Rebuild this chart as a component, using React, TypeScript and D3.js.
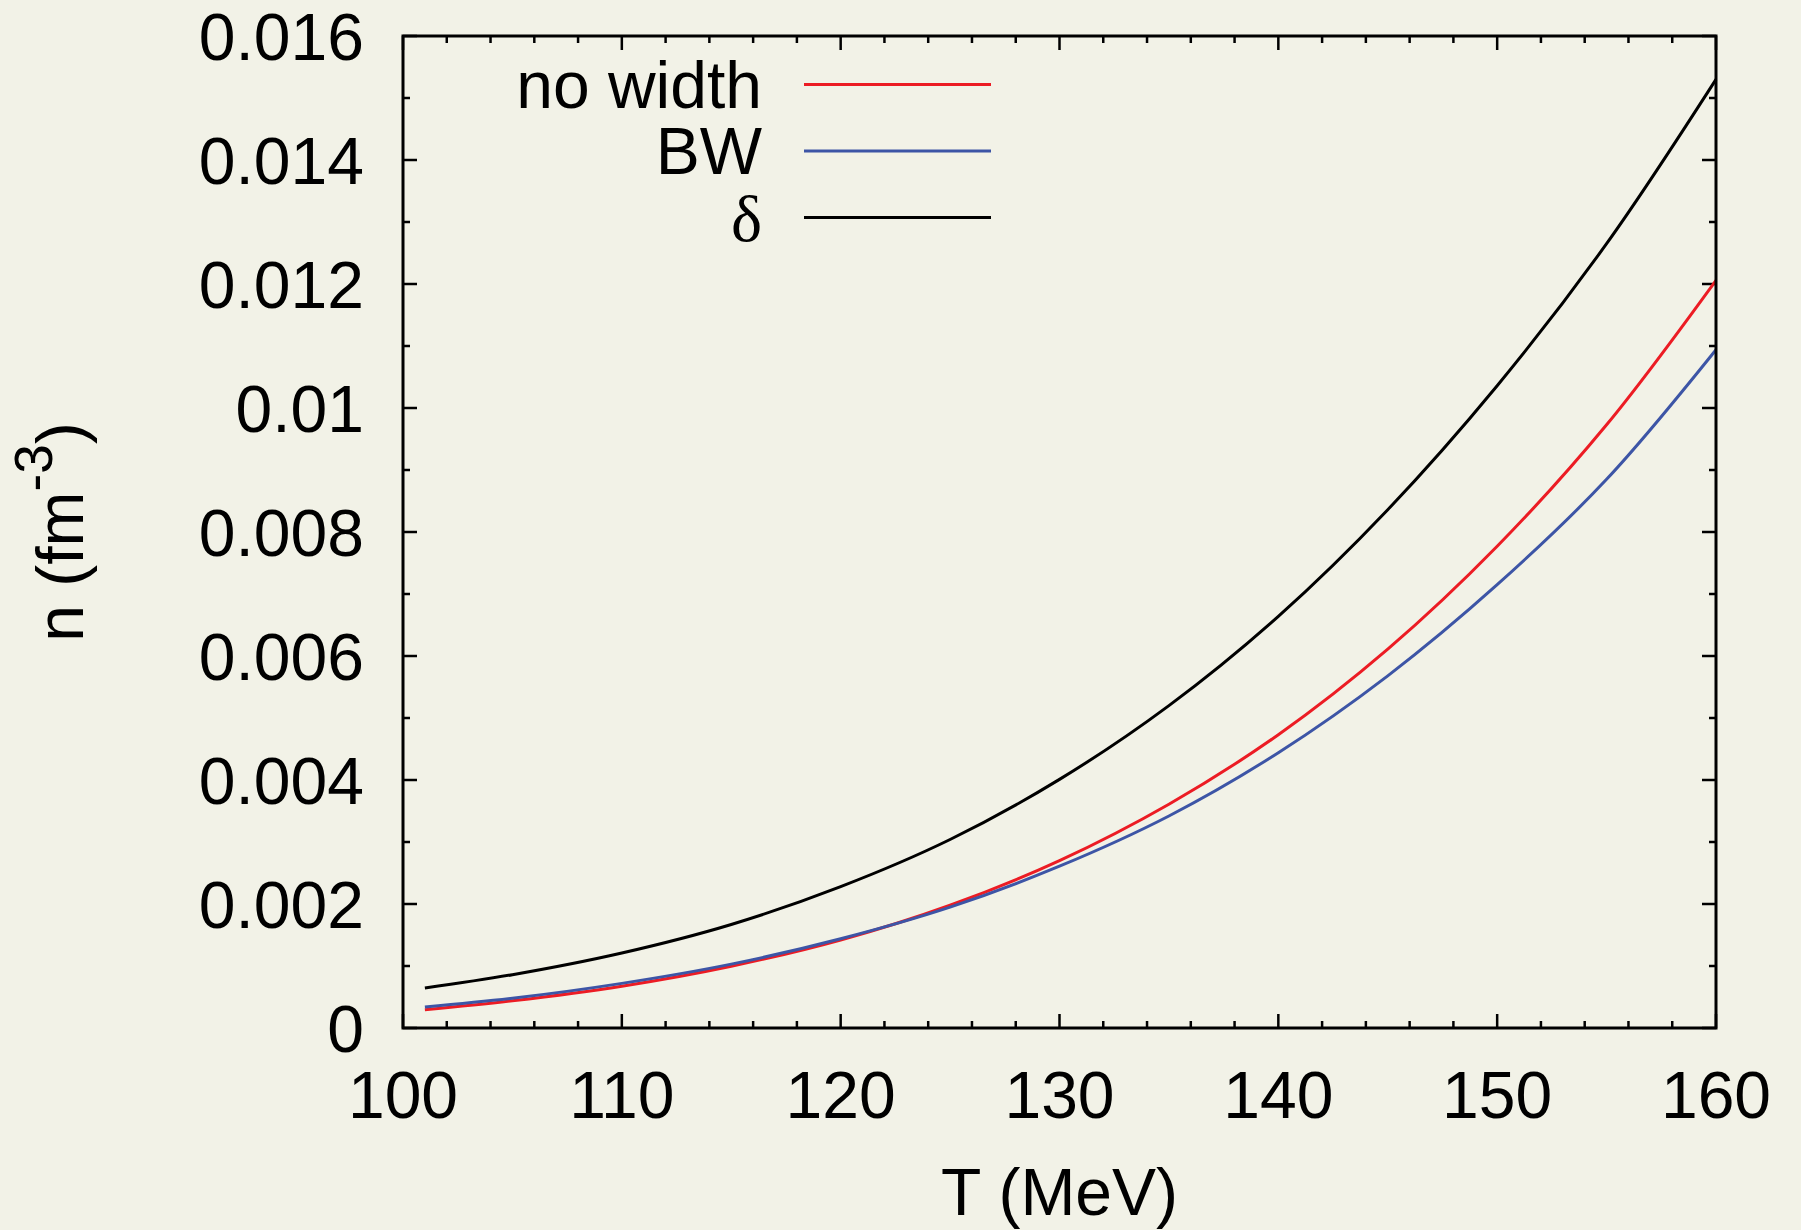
import React from "react";
import * as d3 from "d3";

// Temperature grid (MeV)
const temperatures = [101, 105, 110, 115, 120, 125, 130, 135, 140, 145, 150, 155, 160];

// Number density n (fm^-3) for each prescription
const noWidth = [0.000294, 0.000439, 0.000675, 0.000997, 0.00142, 0.00198, 0.0027, 0.00361, 0.00473, 0.00611, 0.00777, 0.00973, 0.01206];
const breitWigner = [0.00034, 0.00048, 0.00072, 0.00103, 0.00144, 0.00195, 0.00261, 0.00342, 0.00444, 0.00568, 0.00715, 0.00885, 0.01094];
const deltaFn = [0.000645, 0.00086, 0.00121, 0.00167, 0.00228, 0.00304, 0.00401, 0.0052, 0.00664, 0.00836, 0.01036, 0.01265, 0.0153];

const xTicks = [100, 110, 120, 130, 140, 150, 160];
const yTicks = [0, 0.002, 0.004, 0.006, 0.008, 0.01, 0.012, 0.014, 0.016];
const yTickLabels = ["0", "0.002", "0.004", "0.006", "0.008", "0.01", "0.012", "0.014", "0.016"];

const series = [
  { label: "no width", values: noWidth, color: "#ec1c24", serif: false },
  { label: "BW", values: breitWigner, color: "#3d55a6", serif: false },
  { label: "δ", values: deltaFn, color: "#000000", serif: true },
];

const W = 1801;
const H = 1230;
const left = 403;
const right = 1716;
const top = 36;
const bottom = 1028;
const FONT = "'Liberation Sans', Arial, Helvetica, sans-serif";
const FS = 66;

export default function App() {
  const x = d3.scaleLinear().domain([100, 160]).range([left, right]);
  const y = d3.scaleLinear().domain([0, 0.016]).range([bottom, top]);

  const line = d3
    .line<[number, number]>()
    .x((d) => x(d[0]))
    .y((d) => y(d[1]))
    .curve(d3.curveCatmullRom.alpha(0.5));

  const xMinor = d3.range(100, 160.001, 2);
  const yMinor = d3.range(0, 0.01601, 0.001);
  const isMajorX = (v: number) => Math.abs(v % 10) < 1e-6;
  const isMajorY = (v: number) => Math.round(v * 1000) % 2 === 0;

  const majLen = 14;
  const minLen = 7;

  return (
    <svg
      width={W}
      height={H}
      style={{ position: "absolute", left: 0, top: 0, background: "#f2f2e7" }}
      fontFamily={FONT}
    >
      <rect x={0} y={0} width={W} height={H} fill="#f2f2e7" />

      {/* x-axis ticks, bottom and top */}
      {xMinor.map((v) => {
        const len = isMajorX(v) ? majLen : minLen;
        return (
          <g key={`xt${v}`} stroke="#000" strokeWidth={2.5}>
            <line x1={x(v)} x2={x(v)} y1={bottom} y2={bottom - len} />
            <line x1={x(v)} x2={x(v)} y1={top} y2={top + len} />
          </g>
        );
      })}
      {/* y-axis ticks, left and right */}
      {yMinor.map((v) => {
        const len = isMajorY(v) ? majLen : minLen;
        return (
          <g key={`yt${v}`} stroke="#000" strokeWidth={2.5}>
            <line x1={left} x2={left + len} y1={y(v)} y2={y(v)} />
            <line x1={right} x2={right - len} y1={y(v)} y2={y(v)} />
          </g>
        );
      })}

      {/* curves */}
      {series.map((s) => (
        <path
          key={s.label}
          d={line(temperatures.map((t, i) => [t, s.values[i]] as [number, number])) || ""}
          fill="none"
          stroke={s.color}
          strokeWidth={3}
        />
      ))}

      {/* frame */}
      <rect
        x={left}
        y={top}
        width={right - left}
        height={bottom - top}
        fill="none"
        stroke="#000"
        strokeWidth={3}
      />

      {/* tick labels */}
      {xTicks.map((v) => (
        <text key={`xl${v}`} x={x(v)} y={1118} fontSize={FS} textAnchor="middle" fill="#000">
          {v}
        </text>
      ))}
      {yTicks.map((v, i) => (
        <text key={`yl${v}`} x={364} y={y(v) + 23.5} fontSize={FS} textAnchor="end" fill="#000">
          {yTickLabels[i]}
        </text>
      ))}

      {/* axis titles */}
      <text x={(left + right) / 2} y={1215} fontSize={FS} textAnchor="middle" fill="#000">
        T (MeV)
      </text>
      <text
        transform={`translate(83, 532) rotate(-90)`}
        fontSize={FS}
        textAnchor="middle"
        fill="#000"
      >
        n (fm
        <tspan fontSize={53} dy={-31}>
          -3
        </tspan>
        <tspan dy={31}>)</tspan>
      </text>

      {/* legend */}
      {series.map((s, i) => {
        const ly = 84.5 + i * 66.5;
        return (
          <g key={`lg${s.label}`}>
            <text
              x={762}
              y={ly + 23}
              fontSize={FS}
              textAnchor="end"
              fill="#000"
              fontFamily={s.serif ? "'Liberation Serif', 'Times New Roman', serif" : FONT}
            >
              {s.label}
            </text>
            <line x1={804} x2={991} y1={ly} y2={ly} stroke={s.color} strokeWidth={3} />
          </g>
        );
      })}
    </svg>
  );
}
